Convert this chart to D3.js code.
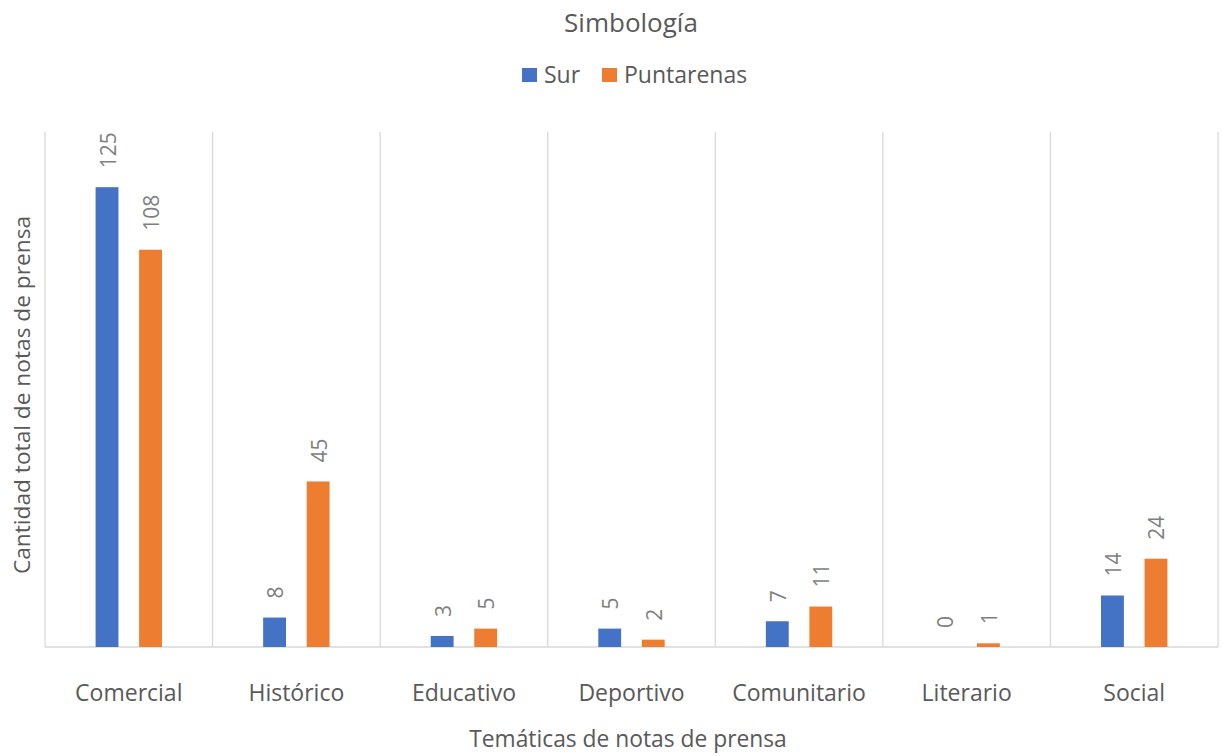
<html>
<head>
  <style>
    body { margin: 0; background: white; font-family: "Open Sans", sans-serif; }
  </style>
</head>
<body>
  <svg id="chart"></svg>
  <script src="https://cdn.jsdelivr.net/npm/d3@7/dist/d3.min.js"></script>
  <script>
    // data
    var categories = ["Comercial", "Histórico", "Educativo", "Deportivo", "Comunitario", "Literario", "Social"];
    var seriesNames = ["Sur", "Puntarenas"];
    var surValues = [125, 8, 3, 5, 7, 0, 14];
    var puntarenasValues = [108, 45, 5, 2, 11, 1, 24];
    var colors = ["#4472c4", "#ed7d31"];

    var width = 1222, height = 756;
    var pad = { top: 132, left: 45, right: 4, bottom: 109 };
    var font = "'Open Sans', sans-serif";

    var svg = d3.select("#chart").attr("width", width).attr("height", height);

    var xScale = d3.scaleBand()
      .domain(categories)
      .range([pad.left, width - pad.right]);

    var yScale = d3.scaleLinear()
      .domain([0, 140])
      .range([height - pad.bottom, pad.top]);

    // two bars around the middle of each category
    var mid = xScale.bandwidth() / 2;
    var inner = d3.scaleBand()
      .domain(seriesNames)
      .range([mid - 33.2, mid + 33.2])
      .paddingInner(0.475);

    // vertical separators between categories
    var lines = categories.map(function(c) { return xScale(c); });
    lines.push(width - pad.right);
    svg.append("g").selectAll("line")
      .data(lines)
      .join("line")
      .attr("x1", d => d).attr("x2", d => d)
      .attr("y1", pad.top).attr("y2", yScale(0))
      .attr("stroke", "#d9d9d9").attr("stroke-width", 1.3);

    // baseline
    svg.append("line")
      .attr("x1", pad.left).attr("x2", width - pad.right)
      .attr("y1", yScale(0)).attr("y2", yScale(0))
      .attr("stroke", "#d9d9d9").attr("stroke-width", 1.5);

    var rows = [];
    categories.forEach(function(c, i) {
      rows.push({ cat: c, s: "Sur", v: surValues[i], k: 0 });
      rows.push({ cat: c, s: "Puntarenas", v: puntarenasValues[i], k: 1 });
    });

    svg.append("g").selectAll("rect")
      .data(rows)
      .join("rect")
      .attr("x", d => xScale(d.cat) + inner(d.s))
      .attr("width", inner.bandwidth())
      .attr("y", d => yScale(d.v))
      .attr("height", d => yScale(0) - yScale(d.v))
      .attr("fill", d => colors[d.k]);

    // data labels (rotated)
    svg.append("g").selectAll("text")
      .data(rows)
      .join("text")
      .attr("transform", function(d) {
        var x = xScale(d.cat) + inner(d.s) + inner.bandwidth() / 2 + 8.5;
        var y = yScale(d.v) - 19;
        return "translate(" + x + "," + y + ") rotate(-90)";
      })
      .attr("font-family", font)
      .attr("font-size", 21)
      .attr("fill", "#7f7f7f")
      .text(d => d.v);

    // x axis labels
    var xAxis = d3.axisBottom(xScale).tickSize(0).tickPadding(38);
    var gx = svg.append("g")
      .attr("transform", "translate(0," + yScale(0) + ")")
      .call(xAxis);
    gx.select(".domain").remove();
    gx.selectAll("text")
      .attr("font-size", 23)
      .attr("font-family", font)
      .attr("fill", "#595959");

    // title
    svg.append("text")
      .attr("x", 631).attr("y", 32)
      .attr("text-anchor", "middle")
      .attr("font-family", font)
      .attr("font-size", 26)
      .attr("fill", "#595959")
      .text("Simbología");

    // legend
    var legend = svg.append("g").attr("transform", "translate(522,68)");
    var legX = [0, 80];
    seriesNames.forEach(function(s, i) {
      legend.append("rect")
        .attr("x", legX[i]).attr("y", 0)
        .attr("width", 15).attr("height", 14)
        .attr("fill", colors[i]);
      legend.append("text")
        .attr("x", legX[i] + 22).attr("y", 15)
        .attr("font-family", font)
        .attr("font-size", 23)
        .attr("fill", "#595959")
        .text(s);
    });

    // axis titles
    svg.append("text")
      .attr("x", 628).attr("y", 747)
      .attr("text-anchor", "middle")
      .attr("font-family", font)
      .attr("font-size", 22.8)
      .attr("fill", "#595959")
      .text("Temáticas de notas de prensa");

    svg.append("text")
      .attr("transform", "translate(30,395) rotate(-90)")
      .attr("text-anchor", "middle")
      .attr("font-family", font)
      .attr("font-size", 22.7)
      .attr("fill", "#595959")
      .text("Cantidad total de notas de prensa");
  </script>
</body>
</html>
